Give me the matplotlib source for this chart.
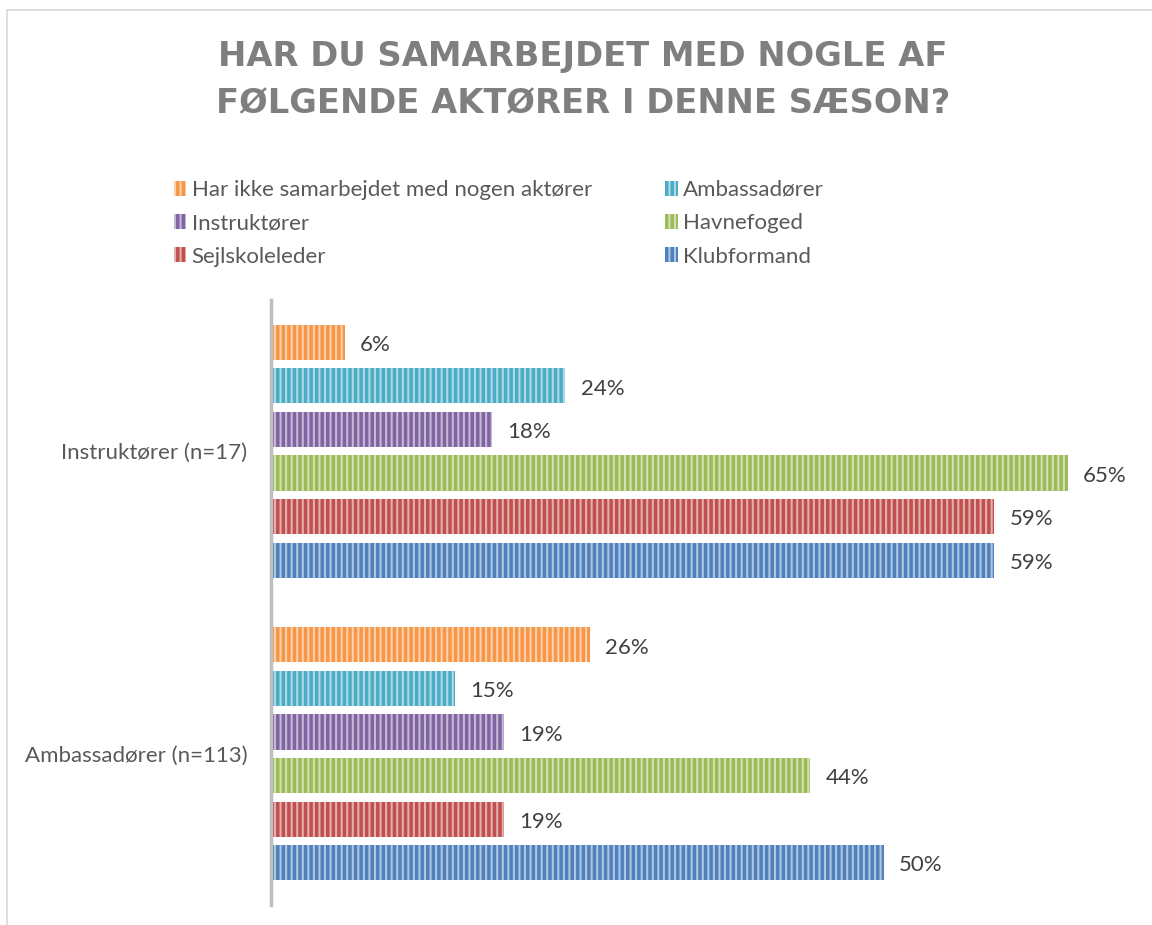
import matplotlib
matplotlib.use('Agg')
import matplotlib.pyplot as plt
from matplotlib.patches import Patch
from matplotlib.lines import Line2D
from matplotlib.colors import to_rgb

# ---- data ----
categories = ['Instruktører (n=17)', 'Ambassadører (n=113)']
series_names = ['Har ikke samarbejdet med nogen aktører', 'Ambassadører', 'Instruktører',
                'Havnefoged', 'Sejlskoleleder', 'Klubformand']
har_ikke = [6, 26]
ambassadorer = [24, 15]
instruktorer = [18, 19]
havnefoged = [65, 44]
sejlskoleleder = [59, 19]
klubformand = [59, 50]
series_values = [har_ikke, ambassadorer, instruktorer, havnefoged, sejlskoleleder, klubformand]
colors = ['#F79646', '#4BACC6', '#8064A2', '#9BBB59', '#C0504D', '#4F81BD']
title = 'HAR DU SAMARBEJDET MED NOGLE AF\nFØLGENDE AKTØRER I DENNE SÆSON?'

def tint(c, f=0.55):
    r, g, b = to_rgb(c)
    return (r + (1 - r) * f, g + (1 - g) * f, b + (1 - b) * f)

plt.rcParams['font.family'] = ['Lato', 'DejaVu Sans']
plt.rcParams['hatch.linewidth'] = 1.5

W, H = 1152, 925
fig = plt.figure(figsize=(W / 100, H / 100), dpi=100)
fig.patch.set_facecolor('white')

ax_left = 271 / W
ax_right = (271 + 70 * 12.26) / W
ax_bottom = 1 - 905 / H
ax_top = 1 - 300 / H
ax = fig.add_axes([ax_left, ax_bottom, ax_right - ax_left, ax_top - ax_bottom])

slot = 0.144
bar_h = 0.116
n = len(series_values)
handles = []
for i, (name, vals, c) in enumerate(zip(series_names, series_values, colors)):
    ys = [k + (i - (n - 1) / 2) * slot for k in range(len(categories))]
    ax.barh(ys, vals, height=bar_h, color=c, edgecolor=tint(c), linewidth=0,
            hatch='|||', label=name)
    for y, v in zip(ys, vals):
        ax.annotate(f'{v}%', xy=(v, y), xytext=(11, -2), textcoords='offset points',
                    va='center', ha='left', fontsize=16, color='#404040')
    handles.append(Patch(facecolor=c, edgecolor=tint(c), linewidth=0, hatch='|||', label=name))

ax.set_xlim(0, 70)
ax.set_ylim(1.5, -0.5)
ax.set_yticks(range(len(categories)))
ax.set_yticklabels(categories, fontsize=16, color='#595959')
ax.tick_params(axis='y', length=0, pad=17)
ax.set_xticks([])
for s in ['top', 'right', 'bottom']:
    ax.spines[s].set_visible(False)
ax.spines['left'].set_color('#BFBFBF')
ax.spines['left'].set_linewidth(2.5)
ax.set_facecolor('none')

# title
fig.text(583 / W, 1 - 80 / H, title, ha='center', va='center', fontsize=24.3,
         fontweight='bold', color='#7F7F7F', family='DejaVu Sans', linespacing=1.55)

# legend (column-major order: orange, purple, red | cyan, green, blue)
order = [0, 2, 4, 1, 3, 5]
leg = fig.legend([handles[k] for k in order], [series_names[k] for k in order],
                 ncol=2, loc='upper left', bbox_to_anchor=(174 / W, 1 - 180 / H),
                 frameon=False, fontsize=16, handlelength=0.55, handleheight=0.65,
                 handletextpad=0.25, columnspacing=3.3, labelspacing=0.6,
                 borderpad=0, borderaxespad=0)
for t in leg.get_texts():
    t.set_color('#595959')

# chart border (partial, as in reference)
fig.add_artist(Line2D([7 / W, 1], [1 - 10 / H, 1 - 10 / H], color='#D9D9D9', lw=1.2))
fig.add_artist(Line2D([7 / W, 7 / W], [0, 1 - 10 / H], color='#D9D9D9', lw=1.2))

fig.savefig('out.png', dpi=100, facecolor='white')
